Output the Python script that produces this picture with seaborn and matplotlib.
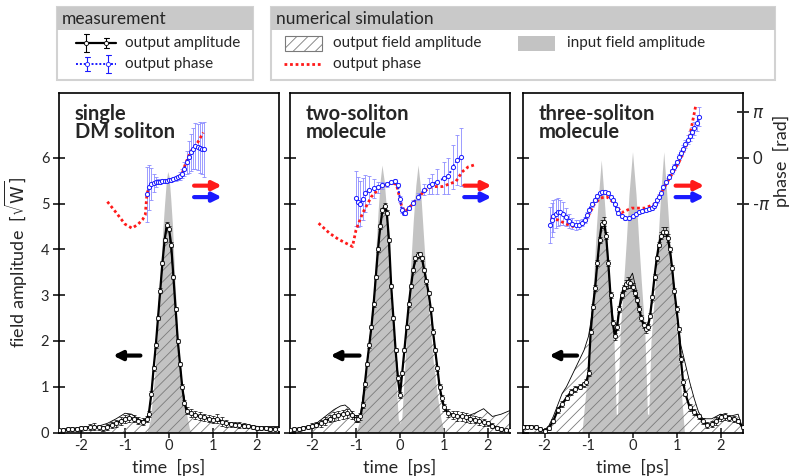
import numpy as np
import pandas as pd
import matplotlib
matplotlib.use("Agg")
import matplotlib.pyplot as plt
from matplotlib.patches import Rectangle
from matplotlib.lines import Line2D
import seaborn as sns

sns.set_theme(style="ticks")
plt.rcParams["font.family"] = ["Lato", "DejaVu Sans"]
plt.rcParams["axes.unicode_minus"] = False
plt.rcParams["hatch.linewidth"] = 0.6
plt.rcParams["mathtext.fontset"] = "dejavusans"

GRAY = "#c3c3c3"
HATCH = "#7a7a7a"
BLUE = "#1a1aff"
LIGHTBLUE = "#8c8cff"
RED = "#ff1a1a"

# ── Panel 1: single DM soliton ───────────────────────────────
t1_in = [-0.50, -0.42, -0.32, -0.22, -0.15, -0.10, -0.06, -0.03, 0.00, 0.04, 0.08, 0.13, 0.20, 0.30, 0.40, 0.46, 0.50]
a1_in = [0.0, 0.3, 1.3, 3.0, 4.3, 5.0, 5.5, 5.7, 5.6, 5.1, 4.5, 3.4, 2.1, 1.0, 0.4, 0.1, 0.0]

t1_sim = [-2.5, -2.2, -2.0, -1.8, -1.6, -1.4, -1.2, -1.0, -0.85, -0.7, -0.55, -0.47, -0.4, -0.3, -0.2, -0.1, -0.05,
          0.0, 0.1, 0.2, 0.3, 0.4, 0.5, 0.7, 0.9, 1.1, 1.3, 1.5, 1.7, 1.9, 2.1, 2.3, 2.5]
a1_sim = [0.04, 0.05, 0.06, 0.10, 0.14, 0.20, 0.30, 0.42, 0.40, 0.30, 0.22, 0.32, 0.85, 1.90, 3.10, 4.20, 4.50,
          4.45, 3.40, 2.00, 1.00, 0.50, 0.40, 0.33, 0.30, 0.25, 0.22, 0.20, 0.17, 0.14, 0.13, 0.13, 0.13]

t1_meas = [-2.5, -2.4, -2.3, -2.2, -2.1, -2.0, -1.9, -1.8, -1.7, -1.6, -1.5, -1.4, -1.3, -1.2, -1.1, -1.0, -0.9, -0.8,
           -0.7, -0.6, -0.5, -0.46, -0.4, -0.35, -0.3, -0.25, -0.2, -0.15, -0.1, -0.05, 0.0, 0.05, 0.1, 0.15, 0.2,
           0.25, 0.3, 0.35, 0.4, 0.5, 0.6, 0.7, 0.8, 0.9, 1.0, 1.1, 1.2, 1.3, 1.4, 1.5, 1.6, 1.7, 1.8, 1.9, 2.0,
           2.1, 2.2, 2.3, 2.4, 2.5]
a1_meas = [0.05, 0.06, 0.07, 0.08, 0.08, 0.09, 0.10, 0.12, 0.13, 0.11, 0.09, 0.12, 0.16, 0.20, 0.25, 0.30, 0.32, 0.30,
           0.26, 0.24, 0.30, 0.40, 0.85, 1.40, 1.90, 2.50, 3.10, 3.70, 4.20, 4.53, 4.45, 4.10, 3.40, 2.70, 2.00,
           1.50, 1.00, 0.65, 0.48, 0.42, 0.38, 0.36, 0.33, 0.30, 0.28, 0.30, 0.24, 0.20, 0.18, 0.17, 0.16, 0.15,
           0.14, 0.12, 0.10, 0.09, 0.09, 0.08, 0.08, 0.08]
e1_meas = [0.03, 0.03, 0.04, 0.04, 0.04, 0.05, 0.05, 0.06, 0.07, 0.06, 0.05, 0.06, 0.07, 0.08, 0.08, 0.09, 0.09, 0.08,
           0.08, 0.07, 0.07, 0.06, 0.05, 0.05, 0.05, 0.05, 0.05, 0.05, 0.05, 0.06, 0.06, 0.05, 0.05, 0.05, 0.05,
           0.05, 0.05, 0.06, 0.08, 0.09, 0.09, 0.09, 0.08, 0.08, 0.08, 0.10, 0.09, 0.07, 0.06, 0.06, 0.06, 0.06,
           0.05, 0.05, 0.05, 0.04, 0.04, 0.04, 0.03, 0.03]

# phase in units of pi
t1_psim = [-1.40, -1.20, -1.00, -0.84, -0.70, -0.60, -0.54, -0.50, -0.44, -0.35, -0.20, -0.12, 0.00, 0.19, 0.30,
           0.38, 0.49, 0.65, 0.78]
p1_sim = [-0.96, -1.20, -1.45, -1.54, -1.45, -1.35, -1.25, -0.78, -0.63, -0.55, -0.53, -0.51, -0.48, -0.45, -0.34,
          -0.12, 0.13, 0.33, 0.55]
t1_pm = [-0.50, -0.45, -0.40, -0.35, -0.30, -0.25, -0.20, -0.15, -0.10, -0.05, 0.00, 0.05, 0.10, 0.15, 0.20, 0.25,
         0.30, 0.35, 0.40, 0.45, 0.50, 0.55, 0.60, 0.65, 0.70, 0.75, 0.80]
p1_meas = [-0.80, -0.65, -0.58, -0.55, -0.53, -0.52, -0.52, -0.51, -0.50, -0.50, -0.49, -0.48, -0.47, -0.45, -0.43,
           -0.40, -0.35, -0.25, -0.10, 0.02, 0.12, 0.20, 0.25, 0.24, 0.22, 0.20, 0.18]
ep1_meas = [0.60, 0.50, 0.35, 0.20, 0.10, 0.06, 0.05, 0.04, 0.04, 0.04, 0.04, 0.04, 0.04, 0.05, 0.06, 0.08, 0.10,
            0.15, 0.25, 0.35, 0.40, 0.45, 0.50, 0.50, 0.55, 0.55, 0.60]

# ── Panel 2: two-soliton molecule ────────────────────────────
t2_in = [-1.00, -0.90, -0.80, -0.70, -0.62, -0.56, -0.50, -0.45, -0.41, -0.36, -0.30, -0.24, -0.17, -0.10, -0.04,
         0.00, 0.04, 0.10, 0.17, 0.24, 0.30, 0.36, 0.41, 0.46, 0.52, 0.58, 0.66, 0.75, 0.85, 0.93, 1.00]
a2_in = [0.0, 0.3, 1.0, 1.8, 2.8, 3.8, 4.8, 5.5, 5.84, 5.5, 4.8, 3.8, 2.5, 1.3, 0.3, 0.2, 0.3, 1.3, 2.5, 3.6, 4.6,
         5.4, 5.84, 5.4, 4.5, 3.6, 2.6, 1.6, 0.8, 0.3, 0.0]

t2_sim = [-2.5, -2.3, -2.1, -1.9, -1.7, -1.5, -1.35, -1.25, -1.15, -1.05, -0.95, -0.9, -0.8, -0.7, -0.6, -0.5, -0.4,
          -0.35, -0.3, -0.2, -0.1, 0.0, 0.1, 0.2, 0.3, 0.4, 0.45, 0.5, 0.6, 0.7, 0.8, 0.9, 1.0, 1.1, 1.3, 1.5, 1.7,
          1.9, 2.1, 2.3, 2.5]
a2_sim = [0.05, 0.08, 0.12, 0.20, 0.35, 0.50, 0.58, 0.60, 0.52, 0.38, 0.35, 0.38, 1.05, 1.90, 2.80, 4.00, 4.85,
          4.95, 4.80, 3.20, 1.80, 0.82, 1.80, 2.80, 3.55, 3.88, 3.89, 3.80, 3.30, 2.70, 1.80, 1.00, 0.55, 0.42,
          0.38, 0.35, 0.42, 0.52, 0.35, 0.40, 0.48]

t2_meas = [-2.5, -2.4, -2.3, -2.2, -2.1, -2.0, -1.9, -1.8, -1.7, -1.6, -1.5, -1.4, -1.3, -1.2, -1.1, -1.0,
           -0.95, -0.90, -0.85, -0.80, -0.75, -0.70, -0.65, -0.60, -0.55, -0.50, -0.45, -0.40, -0.35, -0.30, -0.25,
           -0.20, -0.15, -0.10, -0.05, 0.00, 0.05, 0.10, 0.15, 0.20, 0.25, 0.30, 0.35, 0.40, 0.45, 0.50, 0.55,
           0.60, 0.65, 0.70, 0.75, 0.80, 0.85, 0.90, 0.95, 1.00,
           1.1, 1.2, 1.3, 1.4, 1.5, 1.6, 1.7, 1.8, 1.9, 2.0, 2.1, 2.2, 2.3, 2.4, 2.5]
a2_meas = [0.05, 0.07, 0.08, 0.10, 0.12, 0.15, 0.17, 0.20, 0.25, 0.30, 0.35, 0.38, 0.40, 0.42, 0.38, 0.30,
           0.30, 0.35, 0.60, 1.05, 1.50, 1.90, 2.30, 2.80, 3.40, 4.00, 4.50, 4.85, 4.95, 4.80, 4.20,
           3.20, 2.50, 1.80, 1.20, 0.82, 1.30, 1.80, 2.30, 2.80, 3.20, 3.55, 3.80, 3.88, 3.89, 3.80, 3.55,
           3.30, 3.05, 2.70, 2.20, 1.80, 1.40, 1.00, 0.75, 0.55,
           0.42, 0.38, 0.36, 0.35, 0.33, 0.30, 0.28, 0.25, 0.22, 0.20, 0.15, 0.10, 0.08, 0.05, 0.05]
e2_meas = [0.03, 0.04, 0.04, 0.05, 0.05, 0.06, 0.06, 0.07, 0.08, 0.08, 0.09, 0.10, 0.10, 0.10, 0.09, 0.08,
           0.08, 0.07, 0.06, 0.05, 0.05, 0.05, 0.05, 0.05, 0.05, 0.05, 0.05, 0.06, 0.06, 0.06, 0.05,
           0.05, 0.05, 0.05, 0.05, 0.06, 0.05, 0.05, 0.05, 0.05, 0.05, 0.05, 0.05, 0.06, 0.06, 0.05, 0.05,
           0.05, 0.05, 0.05, 0.05, 0.05, 0.05, 0.06, 0.07, 0.08,
           0.09, 0.09, 0.10, 0.10, 0.09, 0.09, 0.08, 0.08, 0.07, 0.06, 0.05, 0.05, 0.04, 0.03, 0.03]

t2_psim = [-1.85, -1.60, -1.40, -1.20, -1.08, -1.00, -0.85, -0.65, -0.43, -0.19, -0.08, 0.04, 0.12, 0.25, 0.42,
           0.60, 0.73, 0.96, 1.10, 1.27, 1.41, 1.55, 1.68]
p2_sim = [-1.43, -1.65, -1.78, -1.88, -1.94, -1.58, -1.21, -0.85, -0.63, -0.55, -0.58, -1.07, -1.18, -1.05, -0.85,
          -0.70, -0.63, -0.63, -0.58, -0.52, -0.31, -0.20, -0.16]
t2_pm = [-1.00, -0.95, -0.90, -0.85, -0.80, -0.70, -0.60, -0.50, -0.40, -0.30, -0.20, -0.12, -0.05, 0.00, 0.04,
         0.08, 0.12, 0.20, 0.30, 0.42, 0.55, 0.65, 0.73, 0.85, 1.00, 1.10, 1.20, 1.30, 1.39]
p2_meas = [-0.89, -0.96, -1.00, -0.90, -0.78, -0.70, -0.67, -0.64, -0.60, -0.58, -0.54, -0.50, -0.60, -0.90, -1.14,
           -1.20, -1.21, -1.10, -0.98, -0.85, -0.70, -0.62, -0.58, -0.52, -0.45, -0.40, -0.20, -0.05, 0.02]
ep2_meas = [0.60, 0.55, 0.50, 0.45, 0.40, 0.30, 0.20, 0.12, 0.08, 0.05, 0.04, 0.04, 0.05, 0.06, 0.06, 0.05, 0.05,
            0.05, 0.06, 0.08, 0.12, 0.18, 0.22, 0.28, 0.35, 0.40, 0.48, 0.55, 0.64]

# ── Panel 3: three-soliton molecule ──────────────────────────
t3_in = [-1.15, -1.05, -0.95, -0.88, -0.82, -0.77, -0.71, -0.65, -0.58, -0.50, -0.42, -0.37, -0.34, -0.28, -0.20,
         -0.14, -0.08, 0.00, 0.08, 0.14, 0.20, 0.28, 0.34, 0.37, 0.42, 0.50, 0.58, 0.64, 0.71, 0.78, 0.84, 0.92,
         1.00, 1.10, 1.18]
a3_in = [0.0, 1.0, 2.2, 3.4, 4.5, 5.2, 5.95, 5.2, 4.2, 3.0, 2.0, 0.4, 0.4, 2.2, 3.3, 4.2, 5.2, 6.13, 5.2, 4.2, 3.3,
         2.2, 0.4, 0.4, 2.0, 3.0, 4.2, 5.2, 6.13, 5.2, 4.3, 3.2, 2.2, 1.0, 0.0]

t3_sim = [-2.5, -2.3, -2.1, -2.0, -1.9, -1.8, -1.7, -1.6, -1.5, -1.4, -1.3, -1.2, -1.1, -1.0, -0.95, -0.9, -0.8,
          -0.7, -0.65, -0.6, -0.5, -0.4, -0.3, -0.2, -0.1, 0.0, 0.1, 0.2, 0.3, 0.4, 0.5, 0.6, 0.7, 0.75, 0.8, 0.9,
          1.0, 1.1, 1.2, 1.3, 1.4, 1.5, 1.6, 1.8, 2.0, 2.2, 2.4, 2.5]
a3_sim = [0.15, 0.15, 0.08, 0.05, 0.15, 0.35, 0.60, 0.85, 1.00, 1.20, 1.40, 1.60, 1.80, 2.10, 2.40, 2.75, 3.70,
          4.55, 4.60, 4.30, 3.00, 2.10, 2.70, 3.00, 3.30, 3.48, 3.05, 2.50, 2.25, 2.55, 3.40, 4.10, 4.38, 4.38,
          4.25, 3.60, 2.70, 1.90, 1.50, 1.10, 0.75, 0.45, 0.30, 0.30, 0.40, 0.35, 0.40, 0.10]

t3_meas = [-2.5, -2.4, -2.3, -2.2, -2.1, -2.0, -1.9, -1.8, -1.7, -1.6, -1.5, -1.4, -1.3, -1.2, -1.1,
           -1.05, -1.00, -0.95, -0.90, -0.85, -0.80, -0.75, -0.70, -0.65, -0.60, -0.55, -0.50, -0.45, -0.40,
           -0.35, -0.30, -0.25, -0.20, -0.15, -0.10, -0.05, 0.00, 0.05, 0.10, 0.15, 0.20, 0.25, 0.30, 0.35,
           0.40, 0.45, 0.50, 0.55, 0.60, 0.65, 0.70, 0.75, 0.80, 0.85, 0.90, 0.95, 1.00, 1.05, 1.10, 1.15, 1.20,
           1.3, 1.4, 1.5, 1.6, 1.7, 1.8, 1.9, 2.0, 2.1, 2.2, 2.3, 2.4, 2.5]
a3_meas = [0.12, 0.13, 0.13, 0.12, 0.08, 0.04, 0.10, 0.25, 0.49, 0.62, 0.76, 0.88, 0.95, 1.00, 1.05,
           1.10, 1.30, 2.20, 2.75, 3.15, 3.70, 4.20, 4.55, 4.60, 4.30, 3.70, 3.00, 2.40, 2.10,
           2.30, 2.70, 3.00, 3.15, 3.24, 3.28, 3.26, 3.18, 3.05, 2.90, 2.70, 2.50, 2.35, 2.25, 2.30,
           2.55, 2.95, 3.40, 3.80, 4.10, 4.30, 4.38, 4.38, 4.25, 4.00, 3.60, 3.10, 2.70, 2.25, 1.60, 1.10, 0.85,
           0.55, 0.45, 0.35, 0.25, 0.16, 0.18, 0.25, 0.33, 0.35, 0.32, 0.30, 0.25, 0.12]
e3_meas = [0.04, 0.04, 0.04, 0.04, 0.04, 0.03, 0.04, 0.05, 0.06, 0.06, 0.06, 0.06, 0.06, 0.06, 0.06,
           0.06, 0.06, 0.06, 0.06, 0.06, 0.06, 0.06, 0.08, 0.10, 0.08, 0.06, 0.06, 0.06, 0.08,
           0.06, 0.06, 0.06, 0.06, 0.10, 0.12, 0.10, 0.08, 0.06, 0.06, 0.06, 0.06, 0.06, 0.08, 0.06,
           0.06, 0.06, 0.06, 0.06, 0.06, 0.08, 0.10, 0.10, 0.08, 0.06, 0.06, 0.06, 0.06, 0.06, 0.06, 0.06, 0.06,
           0.07, 0.07, 0.06, 0.06, 0.06, 0.07, 0.08, 0.08, 0.08, 0.07, 0.06, 0.05, 0.04]

t3_psim = [-1.86, -1.69, -1.50, -1.32, -1.09, -0.86, -0.72, -0.59, -0.40, -0.25, -0.02, 0.29, 0.52, 0.75, 1.06,
           1.29, 1.44]
p3_sim = [-1.32, -1.36, -1.45, -1.51, -1.43, -1.00, -0.88, -0.85, -1.00, -1.20, -1.10, -1.10, -1.00, -0.60, -0.09,
          0.42, 1.15]
t3_pm = [-1.88, -1.84, -1.80, -1.75, -1.70, -1.64, -1.58, -1.52, -1.45, -1.37, -1.28, -1.22, -1.15, -1.09, -1.04,
         -1.00, -0.93, -0.86, -0.80, -0.75, -0.69, -0.63, -0.55, -0.48, -0.44, -0.40, -0.36, -0.32, -0.25, -0.17,
         -0.08, 0.00, 0.07, 0.14, 0.22, 0.30, 0.37, 0.44, 0.48, 0.52, 0.56, 0.60, 0.65, 0.70, 0.76, 0.83, 0.89,
         0.95, 1.00, 1.06, 1.10, 1.15, 1.20, 1.25, 1.30, 1.35, 1.40, 1.46, 1.52]
p3_meas = [-1.47, -1.36, -1.28, -1.22, -1.18, -1.19, -1.22, -1.30, -1.38, -1.44, -1.47, -1.46, -1.42, -1.36, -1.25,
           -1.15, -1.02, -0.92, -0.84, -0.78, -0.75, -0.74, -0.76, -0.85, -0.92, -1.02, -1.12, -1.21, -1.28, -1.32,
           -1.31, -1.28, -1.23, -1.18, -1.16, -1.14, -1.12, -1.10, -1.06, -1.00, -0.93, -0.85, -0.76, -0.65, -0.53,
           -0.41, -0.30, -0.20, -0.10, 0.02, 0.10, 0.20, 0.30, 0.39, 0.48, 0.56, 0.64, 0.76, 0.90]
ep3_meas = [0.40, 0.38, 0.35, 0.32, 0.30, 0.27, 0.25, 0.20, 0.15, 0.12, 0.10, 0.09, 0.08, 0.07, 0.06,
            0.05, 0.05, 0.04, 0.04, 0.04, 0.04, 0.04, 0.04, 0.04, 0.04, 0.04, 0.04, 0.04, 0.04, 0.04,
            0.04, 0.04, 0.04, 0.04, 0.04, 0.04, 0.04, 0.04, 0.04, 0.04, 0.05, 0.05, 0.05, 0.05, 0.05,
            0.05, 0.05, 0.06, 0.06, 0.06, 0.07, 0.08, 0.09, 0.10, 0.11, 0.12, 0.14, 0.17, 0.20]

panel_titles = ["single\nDM soliton", "two-soliton\nmolecule", "three-soliton\nmolecule"]
time_ticks = [-2, -1, 0, 1, 2]
amp_ticks = [0, 1, 2, 3, 4, 5, 6]
phase_ticks = [-1, 0, 1]
phase_ticklabels = [r"-$\pi$", "0", r"$\pi$"]

panels = [
    (t1_in, a1_in, t1_sim, a1_sim, t1_meas, a1_meas, e1_meas, t1_psim, p1_sim, t1_pm, p1_meas, ep1_meas),
    (t2_in, a2_in, t2_sim, a2_sim, t2_meas, a2_meas, e2_meas, t2_psim, p2_sim, t2_pm, p2_meas, ep2_meas),
    (t3_in, a3_in, t3_sim, a3_sim, t3_meas, a3_meas, e3_meas, t3_psim, p3_sim, t3_pm, p3_meas, ep3_meas),
]
# arrow positions (time) per panel: phase arrows start/end, amplitude arrow start/end
arrow_pos = [((0.57, 1.20), (-0.65, -1.27)),
             ((1.46, 2.08), (-0.92, -1.58)),
             ((0.98, 1.63), (-1.26, -1.89))]

W, H = 791, 476
fig = plt.figure(figsize=(W / 100, H / 100), dpi=100, facecolor="white")
lefts = [59, 290, 522.5]
AX_W, AX_TOP, AX_BOT = 220, 92.7, 432.5
AMP_TOP = 7.42

for i, (left, data) in enumerate(zip(lefts, panels)):
    (ti, ai, ts, as_, tm, am, em, tps, ps, tpm, pm, epm) = data
    ax = fig.add_axes([left / W, 1 - AX_BOT / H, AX_W / W, (AX_BOT - AX_TOP) / H])
    ax.set_facecolor("white")

    ax.fill_between(ti, ai, color=GRAY, lw=0, zorder=1)
    ax.fill_between(ts, as_, facecolor="none", edgecolor=HATCH, hatch="///", lw=0, zorder=2)
    sns.lineplot(x=ts, y=as_, ax=ax, color="black", lw=0.6, zorder=3)
    ax.errorbar(tm, am, yerr=em, fmt="none", ecolor="black", elinewidth=0.5, capsize=1.5,
                capthick=0.5, zorder=4)
    sns.lineplot(x=tm, y=am, ax=ax, color="black", lw=1.6, marker="o", markersize=3.0,
                 markerfacecolor="white", markeredgecolor="black", markeredgewidth=0.6, zorder=5)

    ax.set_xlim(-2.5, 2.5)
    ax.set_ylim(0, AMP_TOP)
    ax.set_xticks(time_ticks)
    ax.set_xticklabels([str(v) for v in time_ticks], fontsize=10.5)
    ax.set_yticks(amp_ticks)
    ax.set_yticklabels([str(v) for v in amp_ticks], fontsize=10.5)
    ax.tick_params(axis="x", direction="inout", length=7, width=1.2, pad=1)
    ax.tick_params(axis="y", direction="inout", length=8, width=1.3, pad=3,
                   left=True, right=(i < 2), labelleft=(i == 0))
    for sp in ax.spines.values():
        sp.set_visible(True)
        sp.set_color("black")
        sp.set_linewidth(1.2)
    ax.set_xlabel("time  [ps]", fontsize=13)
    ax.xaxis.set_label_coords(0.5, -0.078)
    ax.set_ylabel("")

    ax.text(0.072, 0.968, panel_titles[i], transform=ax.transAxes, ha="left", va="top",
            fontsize=14.5, fontweight="bold", linespacing=0.92, zorder=10)

    (px0, px1), (bx0, bx1) = arrow_pos[i]
    for yy, col in [(5.39, RED), (5.14, BLUE)]:
        ax.annotate("", xy=(px1, yy), xytext=(px0, yy),
                    arrowprops=dict(arrowstyle="-|>", color=col, lw=3, mutation_scale=13,
                                    shrinkA=0, shrinkB=0), zorder=10)
    ax.annotate("", xy=(bx1, 1.68), xytext=(bx0, 1.68),
                arrowprops=dict(arrowstyle="-|>", color="black", lw=3, mutation_scale=13,
                                shrinkA=0, shrinkB=0), zorder=10)

    # phase on twin axis (units of pi)
    axp = ax.twinx()
    axp.set_ylim(-6, AMP_TOP - 6)
    axp.errorbar(tpm, pm, yerr=epm, fmt="none", ecolor=LIGHTBLUE, elinewidth=0.6, capsize=1.5,
                 capthick=0.6, zorder=3)
    sns.lineplot(x=tps, y=ps, ax=axp, color=RED, lw=2, linestyle=(0, (1, 1)), zorder=4)
    sns.lineplot(x=tpm, y=pm, ax=axp, color=BLUE, lw=1.4, linestyle=(0, (1, 1)), marker="o",
                 markersize=3.0, markerfacecolor="white", markeredgecolor=BLUE, markeredgewidth=0.7,
                 zorder=5)
    axp.set_ylabel("")
    for sp in axp.spines.values():
        sp.set_visible(False)
    if i == 2:
        axp.set_yticks(phase_ticks)
        axp.set_yticklabels(phase_ticklabels, fontsize=12)
        axp.tick_params(axis="y", direction="inout", length=8, width=1.3, pad=3)
        axp.set_ylabel("phase  [rad]", fontsize=13, rotation=90)
        axp.yaxis.set_label_coords(1.14, 0.80)
    else:
        axp.set_yticks([])
    if i == 0:
        ax.set_ylabel(r"field amplitude  [$\sqrt{\mathrm{W}}$]", fontsize=13)
        ax.yaxis.set_label_coords(-0.13, 0.5)

# ── legend boxes ─────────────────────────────────────────────
def fx(x):
    return x / W


def fy(y):
    return 1 - y / H


def box(x0, x1, header):
    fig.add_artist(Rectangle((fx(x0), fy(80)), fx(x1) - fx(x0), fy(7) - fy(80), transform=fig.transFigure,
                             facecolor="white", edgecolor="#d2d2d2", lw=1.5))
    fig.add_artist(Rectangle((fx(x0), fy(30)), fx(x1) - fx(x0), fy(7) - fy(30), transform=fig.transFigure,
                             facecolor="#c9c9c9", edgecolor="none"))
    fig.text(fx(x0 + 5), fy(18.5), header, fontsize=12.5, va="center", ha="left")


box(57, 253, "measurement")
box(271, 775, "numerical simulation")

# measurement: output amplitude sample
fig.add_artist(Line2D([fx(76), fx(116)], [fy(43), fy(43)], color="black", lw=1.6, transform=fig.transFigure))
for xx, h in [(86, 9), (106, 5)]:
    fig.add_artist(Line2D([fx(xx), fx(xx)], [fy(43 - h), fy(43 + h)], color="black", lw=0.8,
                          transform=fig.transFigure))
    for yy in (43 - h, 43 + h):
        fig.add_artist(Line2D([fx(xx - 2.5), fx(xx + 2.5)], [fy(yy), fy(yy)], color="black", lw=0.8,
                              transform=fig.transFigure))
    fig.add_artist(Line2D([fx(xx)], [fy(43)], marker="o", ms=3, mfc="white", mec="black", mew=0.6,
                          transform=fig.transFigure))
fig.text(fx(125), fy(43), "output amplitude", fontsize=11, va="center", ha="left")

# measurement: output phase sample
fig.add_artist(Line2D([fx(76), fx(116)], [fy(64), fy(64)], color=BLUE, lw=1.4, linestyle=(0, (1, 1)),
                      transform=fig.transFigure))
for xx, h in [(87, 7), (108, 9)]:
    fig.add_artist(Line2D([fx(xx), fx(xx)], [fy(64 - h), fy(64 + h)], color=BLUE, lw=0.8,
                          transform=fig.transFigure))
    for yy in (64 - h, 64 + h):
        fig.add_artist(Line2D([fx(xx - 2.5), fx(xx + 2.5)], [fy(yy), fy(yy)], color=BLUE, lw=0.8,
                              transform=fig.transFigure))
    fig.add_artist(Line2D([fx(xx)], [fy(64)], marker="o", ms=3, mfc="white", mec=BLUE, mew=0.6,
                          transform=fig.transFigure))
fig.text(fx(125), fy(64), "output phase", fontsize=11, va="center", ha="left")

# simulation entries
fig.add_artist(Rectangle((fx(285), fy(51)), fx(322) - fx(285), fy(36) - fy(51), transform=fig.transFigure,
                         facecolor="white", edgecolor=HATCH, hatch="///", lw=0.8))
fig.text(fx(333), fy(43), "output field amplitude", fontsize=11, va="center", ha="left")
fig.add_artist(Line2D([fx(284), fx(322)], [fy(64), fy(64)], color=RED, lw=2, linestyle=(0, (1, 1)),
                      transform=fig.transFigure))
fig.text(fx(333), fy(64), "output phase", fontsize=11, va="center", ha="left")
fig.add_artist(Rectangle((fx(518), fy(51)), fx(555) - fx(518), fy(36) - fy(51), transform=fig.transFigure,
                         facecolor=GRAY, edgecolor="none"))
fig.text(fx(567), fy(43), "input field amplitude", fontsize=11, va="center", ha="left")

fig.savefig("out.png", dpi=100, facecolor="white")
